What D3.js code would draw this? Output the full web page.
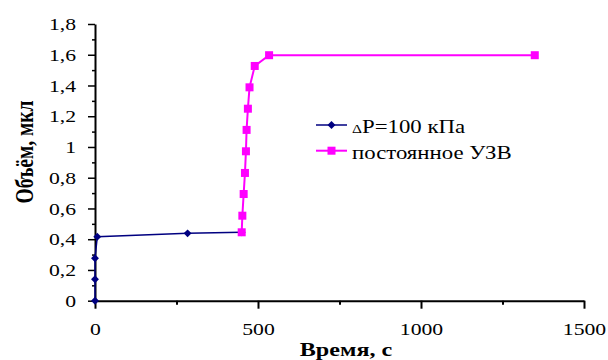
<!DOCTYPE html>
<html>
<head>
<meta charset="utf-8">
<script src="https://cdn.jsdelivr.net/npm/d3@7"></script>
<style>
  svg text { font-family: "Liberation Serif", "Times New Roman", serif; }
</style>
</head>
<body style="margin:0; background:#fff">
<div id="chart"></div>
<script>
// Series data (time, s ; volume, µl)
const pressureTime = [0, 0, 0, 7, 284, 450];
const pressureVol = [0, 0.139, 0.276, 0.416, 0.438, 0.445];

const usTime = [450, 452, 456, 460, 463, 465, 469, 474, 490, 534, 1349];
const usVol = [0.445, 0.553, 0.694, 0.831, 0.972, 1.111, 1.249, 1.388, 1.527, 1.597, 1.597];

const xTicks = [0, 500, 1000, 1500];
const xMinor = [250, 750, 1250];
const yTicks = [0, 0.2, 0.4, 0.6, 0.8, 1, 1.2, 1.4, 1.6, 1.8];
const yMinor = [0.1, 0.3, 0.5, 0.7, 0.9, 1.1, 1.3, 1.5, 1.7];

const legendLabels = ["ΔP=100 кПа", "постоянное УЗВ"];

const width = 608, height = 360;
const margin = { top: 24, right: 24, bottom: 60, left: 95 };
// the original picture is stretched horizontally, so text is widened a bit
const sx = 1.24;

const svg = d3.select("#chart")
    .append("svg")
    .attr("width", width)
    .attr("height", height);

const xScale = d3.scaleLinear()
    .domain([0, 1500])
    .range([margin.left, 584]);

const yScale = d3.scaleLinear()
    .domain([0, 1.8])
    .range([300.7, margin.top]);

const fmt = d => String(d).replace(".", ",");

const txtStyle = (size, bold) =>
    `font-family: 'Liberation Serif', serif; font-size: ${size}px; font-weight: ${bold ? 700 : 400}`;

// minor ticks
svg.append("g")
    .attr("transform", `translate(0,${yScale(0)})`)
    .call(d3.axisBottom(xScale).tickValues(xMinor).tickSize(4).tickFormat(""))
    .call(g => g.select(".domain").remove())
    .selectAll("line").attr("stroke-width", 2);

svg.append("g")
    .attr("transform", `translate(${xScale(0)},0)`)
    .call(d3.axisLeft(yScale).tickValues(yMinor).tickSize(3).tickFormat(""))
    .call(g => g.select(".domain").remove())
    .selectAll("line").attr("stroke-width", 1.5);

// main axes
const xAxis = svg.append("g")
    .attr("transform", `translate(0,${yScale(0)})`)
    .call(d3.axisBottom(xScale).tickValues(xTicks).tickSize(8).tickSizeOuter(0).tickPadding(14).tickFormat(d => d))
    .attr("font-family", null)
    .attr("font-size", null);
xAxis.select(".domain").attr("stroke-width", 2);
xAxis.selectAll("line").attr("stroke-width", 2);
xAxis.selectAll("text")
    .attr("style", txtStyle(17.5))
    .attr("fill", "#000")
    .attr("transform", `scale(${sx},1)`);

const yAxis = svg.append("g")
    .attr("transform", `translate(${xScale(0)},0)`)
    .call(d3.axisLeft(yScale).tickValues(yTicks).tickSize(7).tickSizeOuter(0).tickFormat(fmt))
    .attr("font-family", null)
    .attr("font-size", null);
yAxis.select(".domain").attr("stroke-width", 2);
yAxis.selectAll("line").attr("stroke-width", 1.5);
yAxis.selectAll("text")
    .attr("style", txtStyle(17.5))
    .attr("fill", "#000")
    .attr("x", -19 / sx)
    .attr("transform", `scale(${sx},1)`);

// axis titles
svg.append("text")
    .attr("transform", `translate(346,356) scale(1.27,1)`)
    .attr("text-anchor", "middle")
    .attr("style", txtStyle(19, true))
    .text("Время, с");

svg.append("text")
    .attr("transform", "translate(33,152) rotate(-90) scale(1,1.25)")
    .attr("text-anchor", "middle")
    .attr("style", txtStyle(19.5, true))
    .text("Объём, мкл");

const line = d3.line()
    .x(d => xScale(d[0]))
    .y(d => yScale(d[1]));

const pressureData = pressureTime.map((t, i) => [t, pressureVol[i]]);
const usData = usTime.map((t, i) => [t, usVol[i]]);

const blue = "#000080", magenta = "#ff00ff";
const diamond = d3.symbol().type(d3.symbolDiamond2).size(40);

svg.append("path")
    .datum(pressureData)
    .attr("fill", "none")
    .attr("stroke", blue)
    .attr("stroke-width", 1.5)
    .attr("d", line);

svg.selectAll(".dia")
    .data(pressureData)
    .enter()
    .append("path")
    .attr("class", "dia")
    .attr("transform", d => `translate(${xScale(d[0])},${yScale(d[1])})`)
    .attr("d", diamond)
    .attr("fill", blue);

svg.append("path")
    .datum(usData)
    .attr("fill", "none")
    .attr("stroke", magenta)
    .attr("stroke-width", 2)
    .attr("d", line);

svg.selectAll(".sq")
    .data(usData)
    .enter()
    .append("rect")
    .attr("class", "sq")
    .attr("x", d => xScale(d[0]) - 4)
    .attr("y", d => yScale(d[1]) - 4)
    .attr("width", 8)
    .attr("height", 8)
    .attr("fill", magenta);

// legend
const legend = svg.append("g").attr("transform", "translate(316,125)");
const colors = [blue, magenta];
legendLabels.forEach((lab, i) => {
    const g = legend.append("g").attr("transform", `translate(0,${i * 25.7})`);
    g.append("line")
        .attr("x1", 0).attr("x2", 31)
        .attr("stroke", colors[i])
        .attr("stroke-width", i ? 2 : 1.5);
    if (i === 0) {
        g.append("path").attr("transform", "translate(15.5,0)")
            .attr("d", diamond).attr("fill", blue);
    } else {
        g.append("rect").attr("x", 11.5).attr("y", -4)
            .attr("width", 8).attr("height", 8).attr("fill", magenta);
    }
    const t = g.append("text")
        .attr("transform", `translate(36,8) scale(1.2,1)`)
        .attr("style", txtStyle(19))
        .attr("fill", "#000");
    if (i === 0) {
        t.append("tspan").attr("style", "font-size: 13px").text("Δ");
        t.append("tspan").text(lab.slice(1));
    } else {
        t.text(lab);
    }
});
</script>
</body>
</html>
